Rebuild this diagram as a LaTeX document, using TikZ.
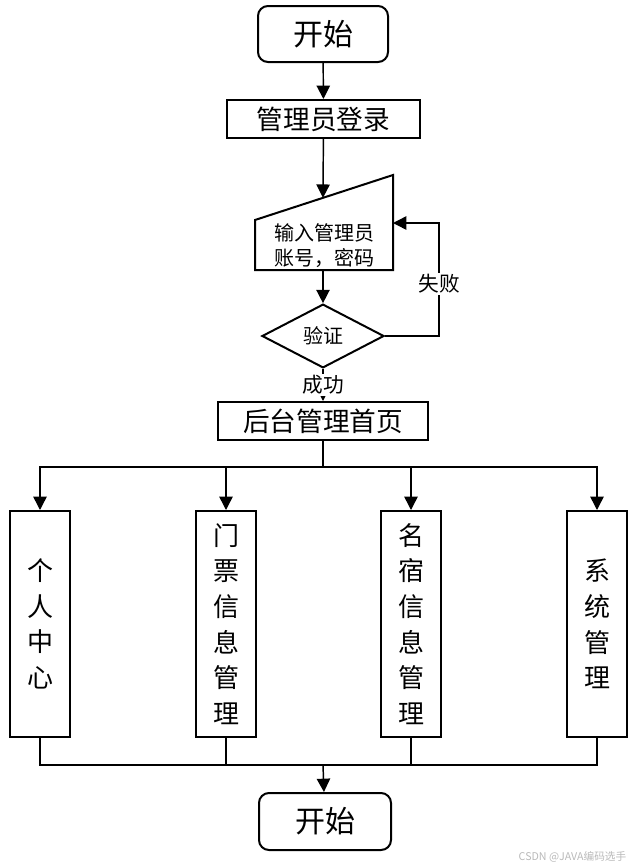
\documentclass[tikz,border=0pt]{standalone}
\usepackage{fontspec}
\setmainfont{Noto Sans CJK SC}
\usetikzlibrary{arrows.meta,shapes.geometric}

\tikzset{
  line/.style={line width=1.1pt},
  arr/.style={line width=1.1pt,-{Triangle[length=10pt,width=10pt]}},
  box/.style={draw,line width=1.5pt,inner sep=0pt,align=center},
  term/.style={box,rounded corners=7.5pt,minimum width=97.5pt,minimum height=42pt,font=\fontsize{22.5}{26}\selectfont},
  title/.style={box,minimum height=28.5pt,font=\fontsize{20}{24}\selectfont},
  col/.style={box,minimum width=45pt,minimum height=169.5pt,font=\fontsize{19.5}{26.7}\selectfont},
  lbl/.style={fill=white,inner sep=1pt,font=\fontsize{15.5}{18}\selectfont}
}

\begin{document}
\begin{tikzpicture}[x=0.75pt,y=0.75pt,yscale=-1,xscale=1]
\path[use as bounding box] (0,0) rectangle (638,868);

% Terminal + title boxes
\node[term] (start) at (323,34) {开始};
\node[title,minimum width=144.75pt] (login) at (323.5,119) {管理员登录};

% Manual input shape
\coordinate (intl) at (255,220);
\coordinate (intr) at (393,175);
\coordinate (inbr) at (393,270);
\coordinate (inbl) at (255,270);
\draw[line width=1.5pt] (intl) -- (intr) -- (inbr) -- (inbl) -- cycle;
\node[align=center,font=\fontsize{15}{19}\selectfont] (input) at (324,245.5) {输入管理员\\账号，密码};
\coordinate (intop) at (323,197.8);
\coordinate (inbot) at (323,270);
\coordinate (inright) at (393,223);

% Decision
\node[draw,diamond,line width=1.5pt,minimum width=91.5pt,minimum height=42pt,inner sep=1pt,font=\fontsize{15}{18}\selectfont] (check) at (323,336) {验证};

\node[title,minimum width=157.5pt] (home) at (323,421) {后台管理首页};

% Function columns
\node[col] (col1) at (40,624) {个\\人\\中\\心};
\node[col] (col2) at (226,624) {门\\票\\信\\息\\管\\理};
\node[col] (col3) at (411,624) {名\\宿\\信\\息\\管\\理};
\node[col] (col4) at (597,624) {系\\统\\管\\理};

\node[term,minimum width=99pt,minimum height=42.75pt] (stop) at (325,821.5) {开始};

% Connectors
\draw[arr] (start) -- (login);
\draw[arr] (login) -- (intop);
\draw[arr] (inbot) -- (check);
\node[lbl] (fail) at (439,284) {失败};
\draw[line] (check.east) -| (fail);
\draw[arr] (fail) |- (inright);
\draw[arr] (check.south) -- node[lbl] (ok) {成功} (home.north);

\coordinate (hub) at (323,467);
\draw[line] (home.south) -- (hub);
\foreach \n in {1,...,4}
  \draw[arr] (hub) -| (col\n.north);

\coordinate (join) at (323,765);
\foreach \n in {1,...,4}
  \draw[line] (col\n.south) |- (join);
\draw[arr] (join) -- (stop);

% Watermark
\node[anchor=east,text=gray!55,font=\fontsize{8}{10}\selectfont] (mark) at (631,857) {CSDN @JAVA编码选手};

\end{tikzpicture}
\end{document}
